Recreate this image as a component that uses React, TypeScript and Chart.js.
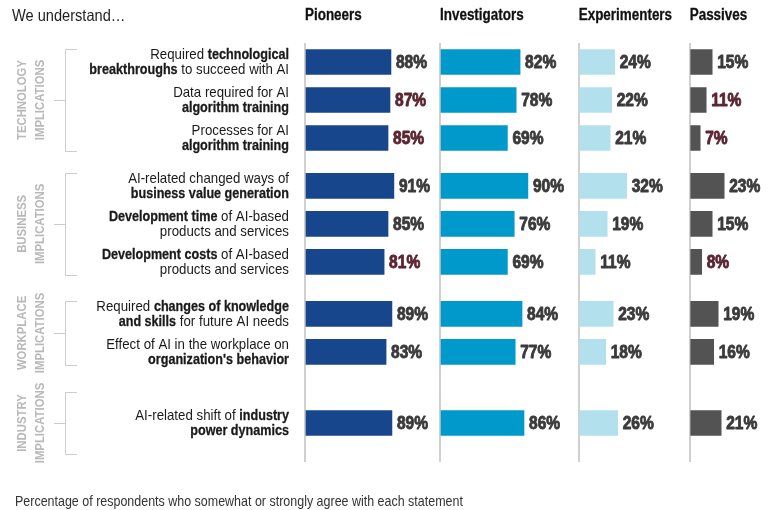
import React, { useEffect, useRef } from "react";
import { Chart, registerables } from "chart.js";

Chart.register(...registerables);

const FONT = "'Liberation Sans', Arial, sans-serif";
const NARROW_BOLD = 0.84; // horizontal compression to mimic a condensed face
const NARROW_REG = 0.885;

// ---------- data ----------
const segmentNames = ["Pioneers", "Investigators", "Experimenters", "Passives"];

const groupNames: string[][] = [
  ["TECHNOLOGY", "IMPLICATIONS"],
  ["BUSINESS", "IMPLICATIONS"],
  ["WORKPLACE", "IMPLICATIONS"],
  ["INDUSTRY", "IMPLICATIONS"],
];

const rowGroup = [0, 0, 0, 1, 1, 1, 2, 2, 3];

type Seg = [string, boolean];
const statements: Seg[][][] = [
  [[["Required ", false], ["technological", true]], [["breakthroughs", true], [" to succeed with AI", false]]],
  [[["Data required for AI", false]], [["algorithm training", true]]],
  [[["Processes for AI", false]], [["algorithm training", true]]],
  [[["AI-related changed ways of", false]], [["business value generation", true]]],
  [[["Development time", true], [" of AI-based", false]], [["products and services", false]]],
  [[["Development costs", true], [" of AI-based", false]], [["products and services", false]]],
  [[["Required ", false], ["changes of knowledge", true]], [["and skills", true], [" for future AI needs", false]]],
  [[["Effect of AI in the workplace on", false]], [["organization's behavior", true]]],
  [[["AI-related shift of ", false], ["industry", true]], [["power dynamics", true]]],
];

const pioneers = [88, 87, 85, 91, 85, 81, 89, 83, 89];
const investigators = [82, 78, 69, 90, 76, 69, 84, 77, 86];
const experimenters = [24, 22, 21, 32, 19, 11, 23, 18, 26];
const passives = [15, 11, 7, 23, 15, 8, 19, 16, 21];

const pioneersHighlight = [false, true, true, false, false, true, false, false, false];
const investigatorsHighlight = [false, false, false, false, false, false, false, false, false];
const experimentersHighlight = [false, false, false, false, false, false, false, false, false];
const passivesHighlight = [false, true, true, false, false, true, false, false, false];

const titleText = "We understand\u2026";
const footnoteText = "Percentage of respondents who somewhat or strongly agree with each statement";

// ---------- layout / style ----------
const groupExtraGap = [0, 0.26, 0.63, 1.5]; // extra spacing before each group (row units)
const rowPos = rowGroup.map((g, i) => i + groupExtraGap[g]);

const seriesValues = [pioneers, investigators, experimenters, passives];
const seriesHighlight = [pioneersHighlight, investigatorsHighlight, experimentersHighlight, passivesHighlight];
const seriesColors = ["#17468c", "#0099cc", "#b2e1ed", "#535353"];
const axisMax = [138.2, 142, 74, 56.9];
const axisWeight = [135, 138.7, 111, 85.3];

function narrowText(
  ctx: CanvasRenderingContext2D,
  text: string,
  x: number,
  y: number,
  font: string,
  color: string,
  k: number,
  align: CanvasTextAlign = "left",
  stroke = 0
) {
  ctx.save();
  ctx.font = font;
  ctx.fillStyle = color;
  ctx.textAlign = align;
  ctx.textBaseline = "middle";
  ctx.translate(x, y);
  ctx.scale(k, 1);
  if (stroke > 0) {
    ctx.strokeStyle = color;
    ctx.lineWidth = stroke;
    ctx.lineJoin = "round";
    ctx.strokeText(text, 0, 0);
  }
  ctx.fillText(text, 0, 0);
  ctx.restore();
}

function narrowWidth(ctx: CanvasRenderingContext2D, text: string, font: string, k: number) {
  ctx.save();
  ctx.font = font;
  const w = ctx.measureText(text).width * k;
  ctx.restore();
  return w;
}

const labelsPlugin = {
  id: "customLabels",
  afterDatasetsDraw(chart: any) {
    const ctx = chart.ctx;
    seriesValues.forEach((vals, di) => {
      const meta = chart.getDatasetMeta(di);
      meta.data.forEach((el: any, i: number) => {
        narrowText(
          ctx,
          `${vals[i]}%`,
          el.x + 5,
          el.y + 1,
          `bold 18.5px ${FONT}`,
          seriesHighlight[di][i] ? "#5a2430" : "#3a3a3a",
          NARROW_BOLD,
          "left",
          0.9
        );
      });
    });
  },
  afterDraw(chart: any) {
    const ctx = chart.ctx;
    const yScale = chart.scales.y;

    // header & panel titles
    narrowText(ctx, titleText, 12, 16, `16.5px ${FONT}`, "#222", NARROW_REG);
    segmentNames.forEach((name, i) => {
      const sc = chart.scales["x" + i];
      narrowText(ctx, name, sc.left, 16, `bold 16px ${FONT}`, "#111", NARROW_BOLD, "left", 0.3);
    });

    // footnote
    narrowText(ctx, footnoteText, 15, 502, `14.1px ${FONT}`, "#333", NARROW_REG);

    // statements
    const right = 289;
    statements.forEach((lines, i) => {
      const yc = yScale.getPixelForValue(rowPos[i]);
      lines.forEach((segs, li) => {
        const y = yc + (li === 0 ? -7.5 : 7.5);
        const fonts = segs.map(([, b]) => `${b ? "bold " : ""}15px ${FONT}`);
        const ks = segs.map(([, b]) => (b ? NARROW_BOLD : NARROW_REG));
        const widths = segs.map(([t], si) => narrowWidth(ctx, t, fonts[si], ks[si]));
        let x = right - widths.reduce((a, b) => a + b, 0);
        segs.forEach(([t, b], si) => {
          narrowText(ctx, t, x, y, fonts[si], "#1a1a1a", ks[si], "left", b ? 0.3 : 0);
          x += widths[si];
        });
      });
    });

    // group brackets and labels
    ctx.save();
    groupNames.forEach((names, g) => {
      const idx = rowGroup.map((rg, i) => (rg === g ? i : -1)).filter((i) => i >= 0);
      const y1 = yScale.getPixelForValue(rowPos[idx[0]]);
      const y2 = yScale.getPixelForValue(rowPos[idx[idx.length - 1]]);
      const c = (y1 + y2) / 2;
      const half = Math.max((y2 - y1) / 2 + 13, 31);
      const top = Math.round(c - half) + 0.5;
      const bot = Math.round(c + half) + 0.5;
      const mid = Math.round(c) + 0.5;
      ctx.strokeStyle = "#cccccc";
      ctx.lineWidth = 1;
      ctx.beginPath();
      ctx.moveTo(65.5, top);
      ctx.lineTo(65.5, bot);
      ctx.moveTo(65.5, top);
      ctx.lineTo(77, top);
      ctx.moveTo(65.5, bot);
      ctx.lineTo(77, bot);
      ctx.moveTo(54, mid);
      ctx.lineTo(65.5, mid);
      ctx.stroke();

      names.forEach((n, k) => {
        ctx.save();
        ctx.translate(k === 0 ? 22 : 40, c);
        ctx.rotate(-Math.PI / 2);
        narrowText(ctx, n, 0, 0, `bold 13.5px ${FONT}`, "#b8b8b8", NARROW_BOLD, "center");
        ctx.restore();
      });
    });
    ctx.restore();
  },
};

export default function App() {
  const ref = useRef<HTMLCanvasElement | null>(null);

  useEffect(() => {
    if (!ref.current) return;
    const scales: any = {
      y: {
        type: "linear",
        display: false,
        reverse: true,
        offset: false,
        min: -0.5,
        max: 10.526,
      },
    };
    segmentNames.forEach((name, i) => {
      scales["x" + i] = {
        type: "linear",
        axis: "x",
        position: "bottom",
        stack: "panels",
        stackWeight: axisWeight[i],
        min: 0,
        max: axisMax[i],
        border: { display: false },
        ticks: { display: false },
        title: { display: false, text: name },
        grid: {
          drawTicks: false,
          lineWidth: 2,
          color: (c: any) => (c.tick && c.tick.value === 0 ? "#d0d0d0" : "rgba(0,0,0,0)"),
        },
      };
    });

    const chart = new Chart(ref.current, {
      type: "bar",
      data: {
        datasets: seriesValues.map((vals, i) => ({
          label: segmentNames[i],
          data: vals.map((v, k) => ({ x: v, y: rowPos[k] })),
          xAxisID: "x" + i,
          yAxisID: "y",
          backgroundColor: seriesColors[i],
          barThickness: 25,
          grouped: false,
        })),
      },
      options: {
        indexAxis: "y",
        animation: false,
        responsive: false,
        layout: { padding: { left: 305, right: 0, top: 43, bottom: 48 } },
        plugins: { legend: { display: false }, tooltip: { enabled: false } },
        scales,
      },
      plugins: [labelsPlugin],
    } as any);
    return () => chart.destroy();
  }, []);

  return (
    <div style={{ position: "absolute", left: 0, top: 0, width: 775, height: 510, background: "#fff" }}>
      <canvas ref={ref} width={775} height={510} />
    </div>
  );
}
